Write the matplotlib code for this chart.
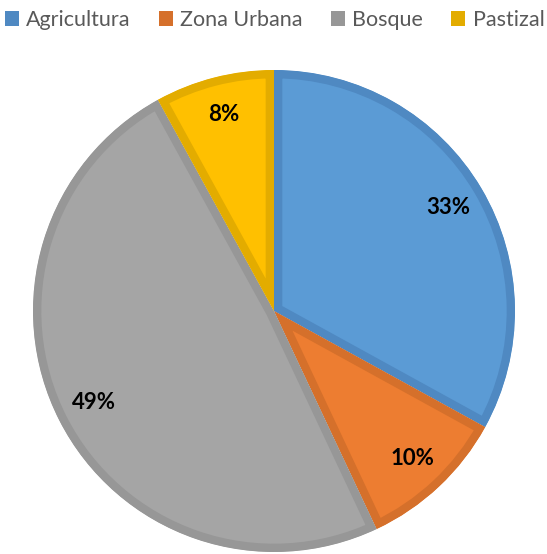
import matplotlib
matplotlib.use('Agg')
import matplotlib.pyplot as plt
from matplotlib.patches import Patch

labels = ['Agricultura', 'Zona Urbana', 'Bosque', 'Pastizal']
values = [33, 10, 49, 8]
fills = ['#5B9BD5', '#ED7D31', '#A5A5A5', '#FFC000']
edges = ['#4F89C2', '#D5702B', '#979797', '#E3AC00']

plt.rcParams['font.family'] = ['Lato', 'DejaVu Sans']

fig = plt.figure(figsize=(5.47, 5.54), dpi=100)
# pie box in pixels: x 33..515, y 70..552
ax = fig.add_axes([33/547, 2/554, 482/547, 482/554])

wedges, texts, pcts = ax.pie(values, colors=fills, startangle=90, counterclock=False,
                             radius=1, autopct='%d%%', pctdistance=0.84,
                             wedgeprops=dict(linewidth=12, edgecolor='none'))
for w, ec in zip(wedges, edges):
    w.set_edgecolor(ec)
    w.set_clip_on(True)
    w.set_clip_path(w)   # keep only the inner half of the thick edge

for t in pcts:
    t.set_fontsize(16)
    t.set_fontweight('bold')
    t.set_color('black')

ax.set_xlim(-1, 1)
ax.set_ylim(-1, 1)
ax.set_aspect('equal')
ax.axis('off')

handles = [Patch(facecolor=c, edgecolor='none') for c in edges]
fig.legend(handles, labels, loc='upper center', bbox_to_anchor=(0.502, 1.017), ncol=4,
           frameon=False, fontsize=15.5, handlelength=0.65, handleheight=0.65,
           handletextpad=0.35, columnspacing=1.3, labelcolor='#595959')

plt.savefig('out.png', dpi=100)
